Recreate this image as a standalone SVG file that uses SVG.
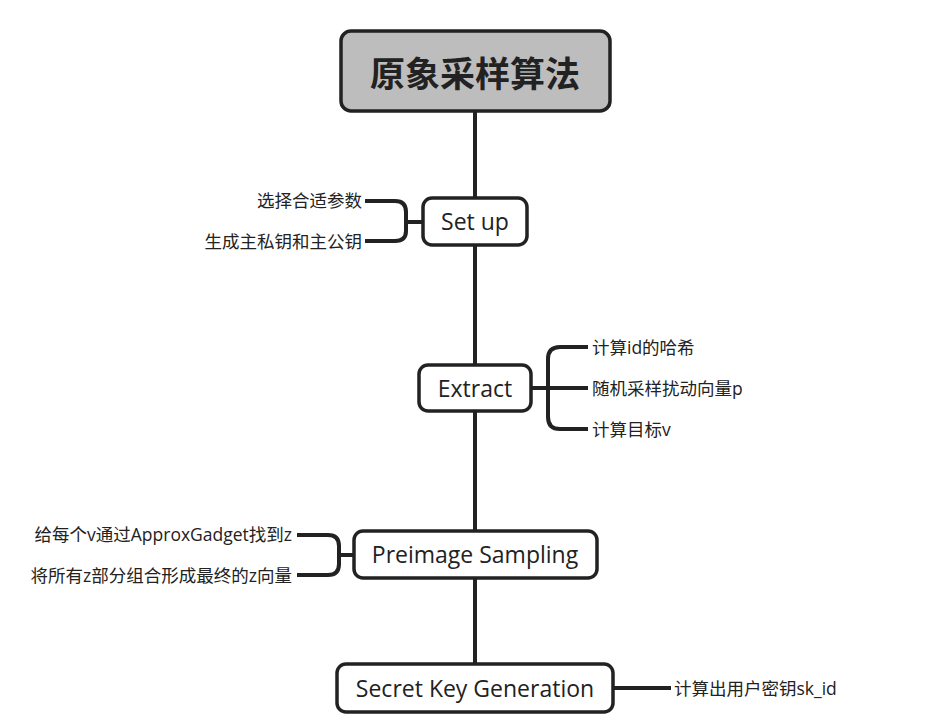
<svg xmlns="http://www.w3.org/2000/svg" width="950" height="728" viewBox="0 0 950 728">
<style>
.box{fill:#fff;stroke:#222;stroke-width:3.5}
.root{fill:#bdbdbd;stroke:#222;stroke-width:3.5}
.ln{fill:none;stroke:#222;stroke-width:4;stroke-linecap:butt}
.nt{font-family:"Open Sans","Noto Sans CJK SC",sans-serif;font-size:23px;fill:#222;text-anchor:middle}
.rt{font-family:"Noto Sans CJK SC",sans-serif;font-size:35px;font-weight:bold;fill:#222;text-anchor:middle}
.lb{font-family:"Open Sans","Noto Sans CJK SC",sans-serif;font-size:17.5px;fill:#222}
.r{text-anchor:end}
</style>
<rect width="950" height="728" fill="#fff"/>
<g id="connectors">
<path class="ln" d="M475 111V665"/>
<path class="ln" d="M423 222H406M365 201H395Q406 201 406 212V231Q406 241 395 241H365"/>
<path class="ln" d="M531 388H548M588 347H560Q548 347 548 359V417Q548 429 560 429H588M548 388H588"/>
<path class="ln" d="M354 555H339M297 535H328Q339 535 339 546V564Q339 575 328 575H297"/>
<path class="ln" d="M613 688H671"/>
</g>
<g id="root">
<rect class="root" x="341" y="31" width="269" height="80" rx="10"/>
<text class="rt" x="475" y="87">原象采样算法</text>
</g>
<g id="setup">
<rect class="box" x="423" y="198" width="104" height="47" rx="9"/>
<text class="nt" x="475" y="230">Set up</text>
</g>
<g id="setup-labels">
<text class="lb r" x="362" y="207">选择合适参数</text>
<text class="lb r" x="362" y="248">生成主私钥和主公钥</text>
</g>
<g id="extract">
<rect class="box" x="419" y="365" width="112" height="46" rx="9"/>
<text class="nt" x="475" y="397">Extract</text>
</g>
<g id="extract-labels">
<text class="lb" x="592" y="354">计算id的哈希</text>
<text class="lb" x="592" y="395">随机采样扰动向量p</text>
<text class="lb" x="592" y="436">计算目标v</text>
</g>
<g id="preimage">
<rect class="box" x="354" y="531" width="243" height="47" rx="9"/>
<text class="nt" x="475" y="563">Preimage Sampling</text>
</g>
<g id="preimage-labels">
<text class="lb r" x="292" y="541">给每个v通过ApproxGadget找到z</text>
<text class="lb r" x="292" y="582">将所有z部分组合形成最终的z向量</text>
</g>
<g id="skgen">
<rect class="box" x="337" y="664" width="276" height="48" rx="9"/>
<text class="nt" x="475" y="697">Secret Key Generation</text>
</g>
<g id="skgen-label">
<text class="lb" x="674" y="695">计算出用户密钥sk_id</text>
</g>
</svg>
